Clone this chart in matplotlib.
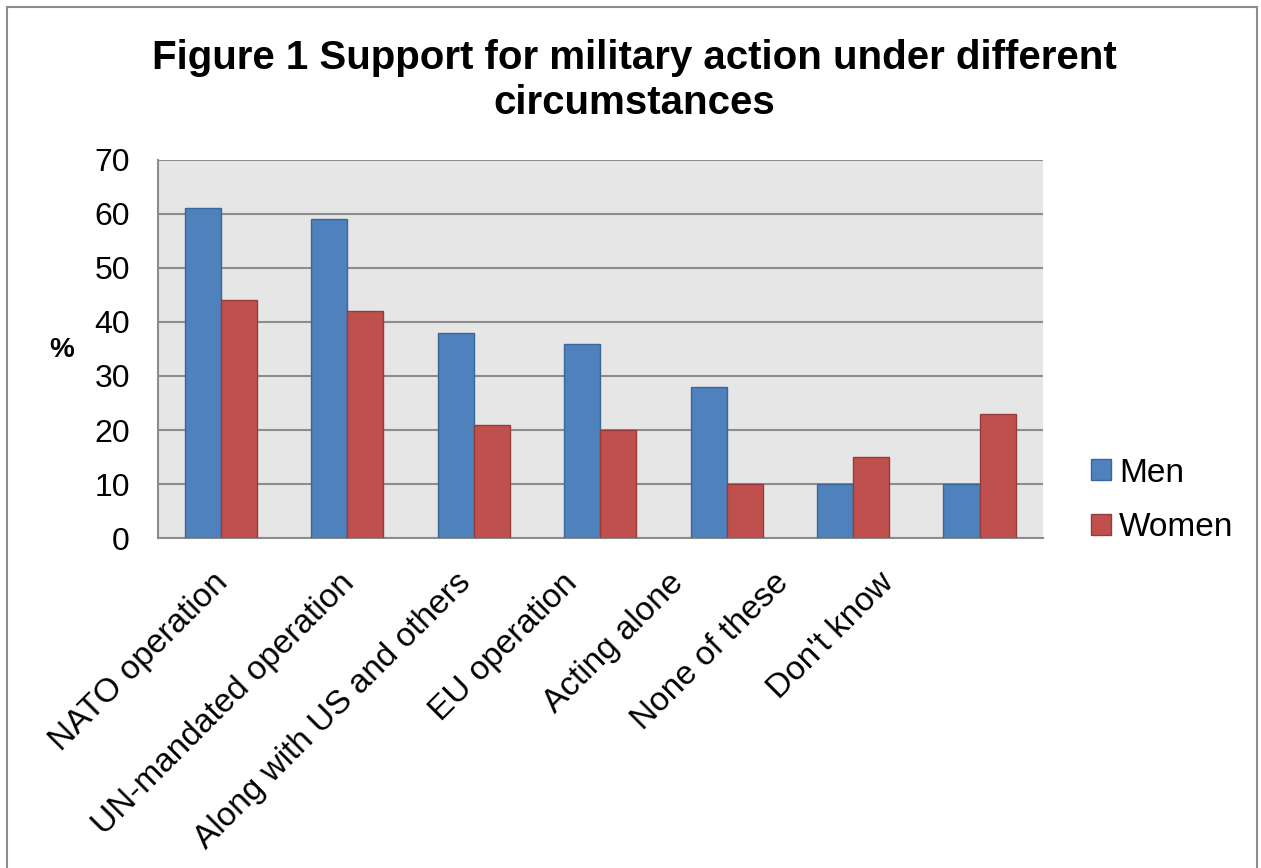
import numpy as np
import matplotlib
matplotlib.use("Agg")
import matplotlib.pyplot as plt
import matplotlib.transforms as mtransforms
from matplotlib.patches import Rectangle

plt.rcParams['font.family'] = ['Liberation Sans', 'DejaVu Sans']

# data
categories = ["NATO operation", "UN-mandated operation", "Along with US and others",
              "EU operation", "Acting alone", "None of these", "Don't know"]
men = [61, 59, 38, 36, 28, 10, 10]
women = [44, 42, 21, 20, 10, 15, 23]

# horizontal nudge (points) of each rotated label, as placed in the original
label_dx = [-6.5, -6.5, -13.5, -27.5, -42.5, -57.5, -73.5]

fig = plt.figure(figsize=(12.61, 8.68), dpi=100)
ax = fig.add_axes([0.125, 0.380, 0.702, 0.436])

x = np.arange(len(categories))
w = 0.286
ax.bar(x - w / 2, men, w, color='#4F81BD', edgecolor='#3B6699', linewidth=1, label='Men', zorder=3)
ax.bar(x + w / 2, women, w, color='#C0504D', edgecolor='#933C3A', linewidth=1, label='Women', zorder=3)

ax.set_facecolor('#E6E6E6')
ax.set_xlim(-0.5, len(categories) - 0.5)
ax.set_ylim(0, 70)
ax.set_yticks(range(0, 71, 10))
ax.yaxis.grid(True, color='#8C8C8C', linewidth=1.5, zorder=0)
ax.set_axisbelow(True)
for s in ['top', 'right']:
    ax.spines[s].set_visible(False)
ax.spines['left'].set_color('#8C8C8C')
ax.spines['bottom'].set_color('#8C8C8C')
ax.spines['left'].set_linewidth(1.5)
ax.spines['bottom'].set_linewidth(1.5)
ax.tick_params(axis='y', labelsize=23, length=0, pad=20)
ax.tick_params(axis='x', labelsize=24, length=0, pad=21)

ax.set_xticks(x)
ax.set_xticklabels(categories, rotation=45, ha='right', va='top', rotation_mode='anchor')
for lbl, dx in zip(ax.get_xticklabels(), label_dx):
    shift = mtransforms.ScaledTranslation(dx / 72, 0, fig.dpi_scale_trans)
    lbl.set_transform(lbl.get_transform() + shift)

fig.text(0.049, 0.597, '%', fontsize=20, fontweight='bold', ha='center', va='center')

fig.text(0.503, 0.907, 'Figure 1 Support for military action under different\ncircumstances',
         fontsize=29, fontweight='bold', ha='center', va='center', linespacing=1.25)

ax.legend(loc='center left', bbox_to_anchor=(1.02, 0.10), frameon=False, fontsize=24,
          handlelength=0.6, handleheight=0.6, handletextpad=0.25, labelspacing=0.7)

fig.patches.append(Rectangle((0.0055, -0.01), 0.991, 1.002, transform=fig.transFigure,
                             fill=False, edgecolor='#8C8C8C', linewidth=1.5))

fig.savefig('out.png', dpi=100)
